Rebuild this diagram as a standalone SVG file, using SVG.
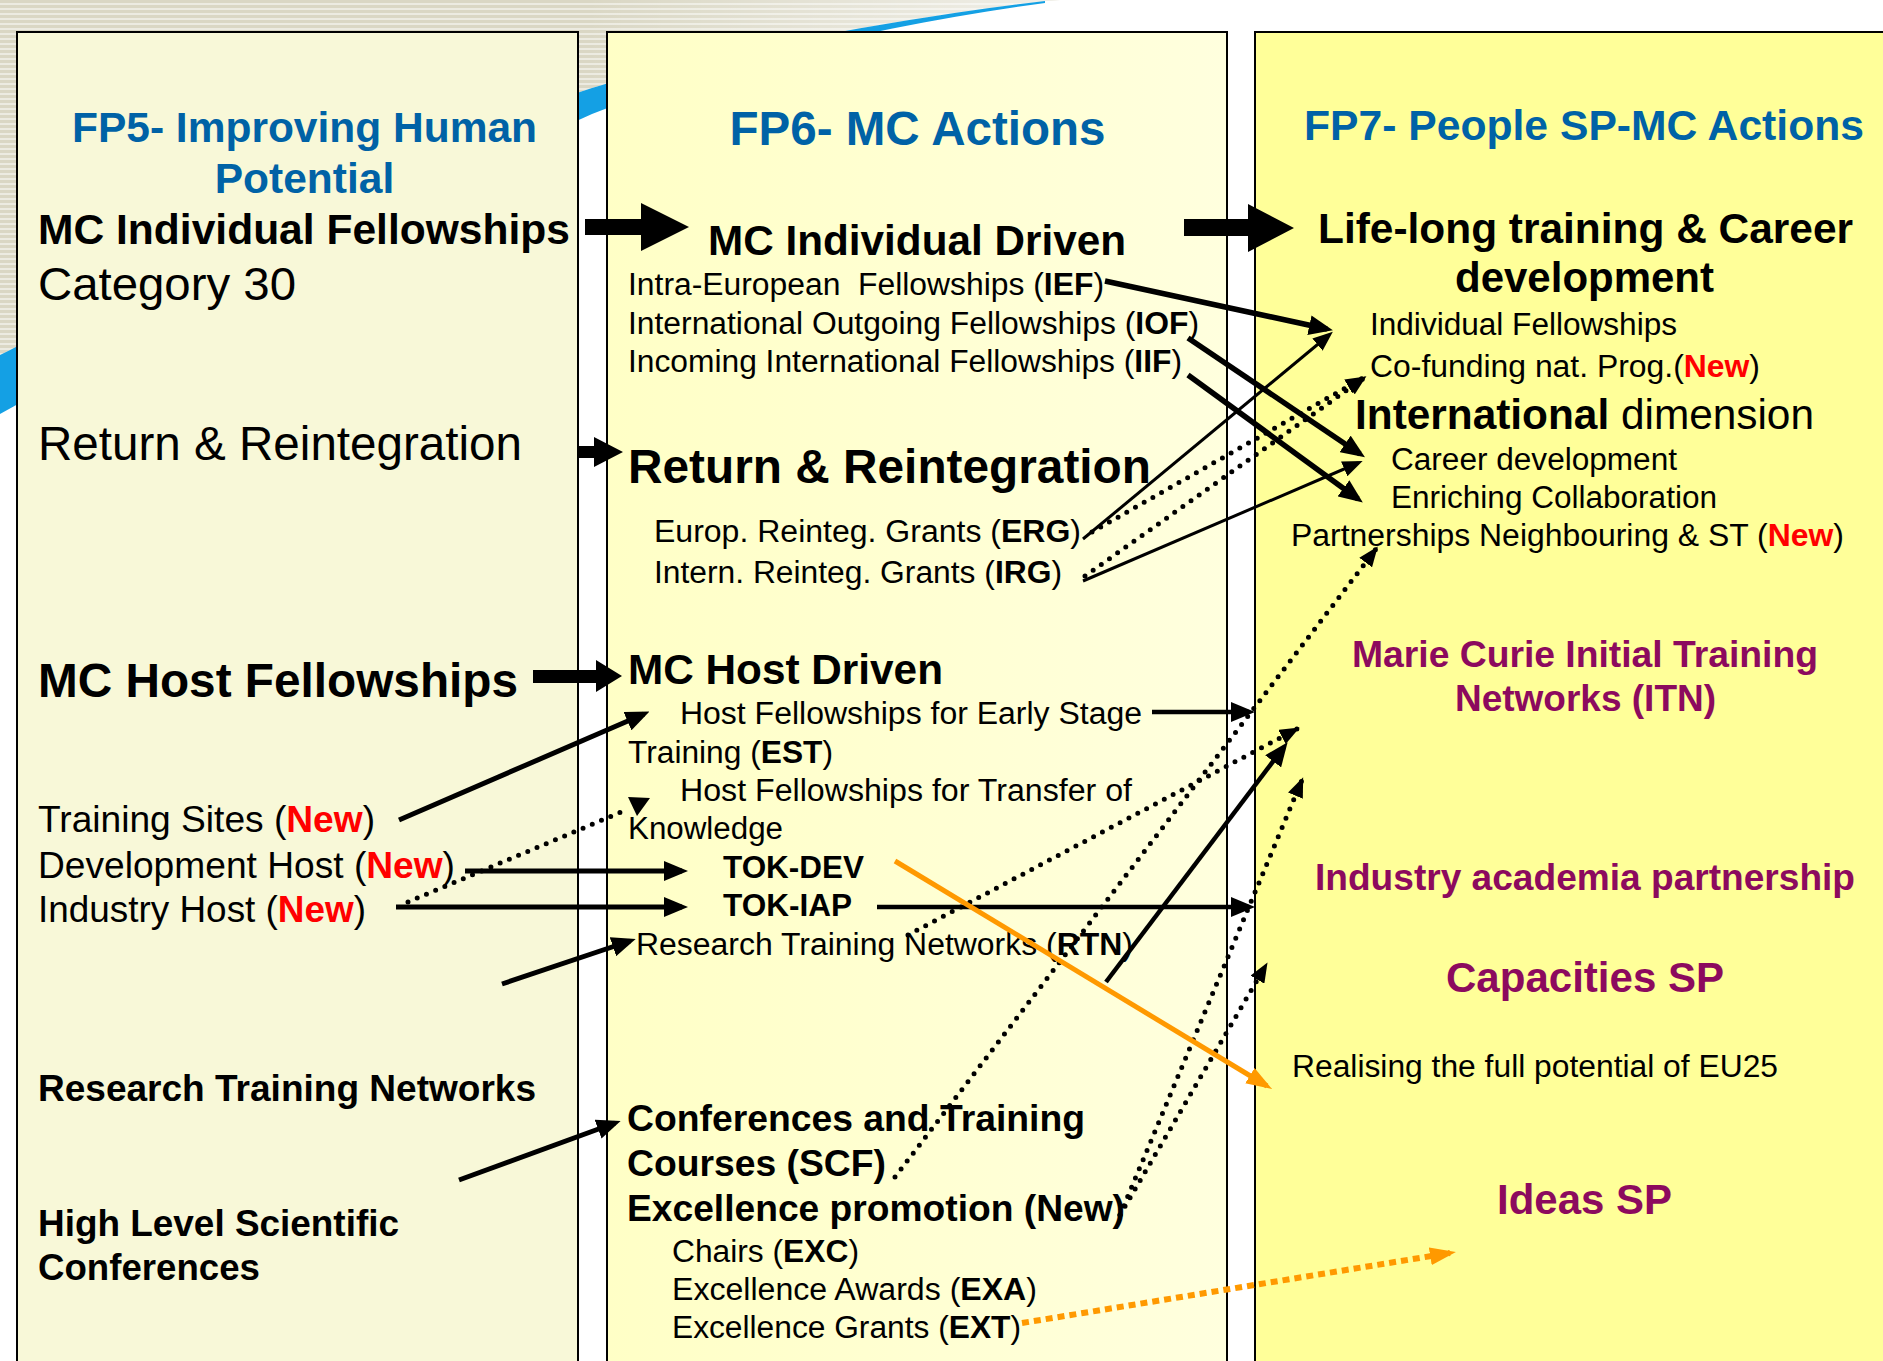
<svg xmlns="http://www.w3.org/2000/svg" width="1883" height="1361" viewBox="0 0 1883 1361">
<defs>
<style>
.t{font-family:"Liberation Sans",Arial,sans-serif;fill:#000}
.b{font-weight:bold}
.blue{fill:#0062A6;font-weight:bold}
.pur{fill:#8C0A5E;font-weight:bold}
.red{fill:#FF0000;font-weight:bold}
.s31{font-size:31px}
.s37{font-size:37px}
.s42{font-size:42.5px}
.s47{font-size:47.5px}
.panel{stroke:#000;stroke-width:2}
.ln{fill:none;stroke:#000;stroke-linecap:butt}
.dot{fill:none;stroke:#000;stroke-width:5;stroke-linecap:round;stroke-dasharray:0 10}
.blk{fill:#000}
</style>
<pattern id="stripes" width="8" height="5" patternUnits="userSpaceOnUse">
<rect width="8" height="5" fill="#DAD7C4"/>
<rect y="3" width="8" height="2" fill="#ECEBE1"/>
</pattern>
<linearGradient id="fade" x1="0" y1="0" x2="1" y2="0">
<stop offset="0.55" stop-color="#fff" stop-opacity="0"/>
<stop offset="1" stop-color="#fff" stop-opacity="0.6"/>
</linearGradient>
<linearGradient id="g2" x1="0" y1="0" x2="1" y2="0">
<stop offset="0" stop-color="#FFFFC6"/>
<stop offset="1" stop-color="#FFFFDE"/>
</linearGradient>
<marker id="ah" viewBox="0 0 24 20" refX="18" refY="10" markerWidth="24" markerHeight="20" markerUnits="userSpaceOnUse" orient="auto">
<path d="M0,0 L24,10 L0,20 z" fill="#000"/>
</marker>
<marker id="ahs" viewBox="0 0 20 16" refX="15" refY="8" markerWidth="20" markerHeight="16" markerUnits="userSpaceOnUse" orient="auto">
<path d="M0,0 L20,8 L0,16 z" fill="#000"/>
</marker>
<marker id="ahd" viewBox="0 0 20 16" refX="17" refY="8" markerWidth="20" markerHeight="16" markerUnits="userSpaceOnUse" orient="auto">
<path d="M0,0 L20,8 L0,16 z" fill="#000"/>
</marker>
<marker id="aho" viewBox="0 0 26 18" refX="20" refY="9" markerWidth="26" markerHeight="18" markerUnits="userSpaceOnUse" orient="auto">
<path d="M0,0 L26,9 L0,18 z" fill="#FF9900"/>
</marker>
</defs>

<g id="background">
<rect width="1883" height="1361" fill="#fff"/>
<path d="M0,0 L1060,0 L1045,1 C900,18 700,55 592,88 C400,150 150,280 0,355 Z" fill="url(#stripes)"/>
<path d="M0,0 L1060,0 L1045,1 C900,18 700,55 592,88 C400,150 150,280 0,355 Z" fill="url(#fade)"/>
<path d="M1045,1 C900,18 700,55 592,88 C400,150 150,280 0,355 L0,414 C150,330 400,200 592,114 C720,62 900,22 1045,3 Z" fill="#14A0E4"/>
</g>

<g id="col-fp5">
<rect class="panel" x="17" y="32" width="561" height="1345" fill="#F8F8D8"/>
<text class="t blue s42" x="304.5" y="142" text-anchor="middle" textLength="465" lengthAdjust="spacingAndGlyphs">FP5- Improving Human</text>
<text class="t blue s42" x="304.5" y="193" text-anchor="middle">Potential</text>
</g>
<g id="col-fp6">
<rect class="panel" x="607" y="32" width="620" height="1345" fill="url(#g2)"/>
<text class="t blue" style="font-size:48px" x="917.5" y="145" text-anchor="middle" textLength="376" lengthAdjust="spacingAndGlyphs">FP6- MC Actions</text>
</g>
<g id="col-fp7">
<rect class="panel" x="1255" y="32" width="660" height="1345" fill="#FFFF99"/>
<text class="t blue s42" x="1304" y="140" textLength="560" lengthAdjust="spacingAndGlyphs">FP7- People SP-MC Actions</text>
</g>

<g id="fp5-mc-individual-fellowships">
<text class="t b s42" x="38" y="244" textLength="532" lengthAdjust="spacingAndGlyphs">MC Individual Fellowships</text>
<text class="t" style="font-size:47px" x="38" y="300" textLength="258" lengthAdjust="spacingAndGlyphs">Category 30</text>
</g>
<g id="fp5-return">
<text class="t s47" x="38" y="460" textLength="484" lengthAdjust="spacingAndGlyphs">Return &amp; Reintegration</text>
</g>
<g id="fp5-mc-host">
<text class="t b s47" x="38" y="697" textLength="480" lengthAdjust="spacingAndGlyphs">MC Host Fellowships</text>
</g>
<g id="fp5-training-sites">
<text class="t s37" x="38" y="832" textLength="337" lengthAdjust="spacingAndGlyphs">Training Sites (<tspan class="red">New</tspan>)</text>
</g>
<g id="fp5-development-host">
<text class="t s37" x="38" y="878" textLength="417" lengthAdjust="spacingAndGlyphs">Development Host (<tspan class="red">New</tspan>)</text>
</g>
<g id="fp5-industry-host">
<text class="t s37" x="38" y="922" textLength="328" lengthAdjust="spacingAndGlyphs">Industry Host (<tspan class="red">New</tspan>)</text>
</g>
<g id="fp5-rtn">
<text class="t b s37" x="38" y="1101" textLength="498" lengthAdjust="spacingAndGlyphs">Research Training Networks</text>
</g>
<g id="fp5-hlsc">
<text class="t b s37" x="38" y="1236" textLength="361" lengthAdjust="spacingAndGlyphs">High Level Scientific</text>
<text class="t b s37" x="38" y="1280" textLength="222" lengthAdjust="spacingAndGlyphs">Conferences</text>
</g>

<g id="fp6-individual-driven">
<text class="t b s42" x="708" y="255" textLength="418" lengthAdjust="spacingAndGlyphs">MC Individual Driven</text>
<text class="t s31" style="white-space:pre" x="628" y="295" textLength="476" lengthAdjust="spacingAndGlyphs">Intra-European  Fellowships (<tspan class="b">IEF</tspan>)</text>
<text class="t s31" x="628" y="334" textLength="571" lengthAdjust="spacingAndGlyphs">International Outgoing Fellowships (<tspan class="b">IOF</tspan>)</text>
<text class="t s31" x="628" y="372" textLength="554" lengthAdjust="spacingAndGlyphs">Incoming International Fellowships (<tspan class="b">IIF</tspan>)</text>
</g>
<g id="fp6-return">
<text class="t b" style="font-size:48px" x="628" y="483" textLength="523" lengthAdjust="spacingAndGlyphs">Return &amp; Reintegration</text>
<text class="t s31" x="654" y="542" textLength="427" lengthAdjust="spacingAndGlyphs">Europ. Reinteg. Grants (<tspan class="b">ERG</tspan>)</text>
<text class="t s31" x="654" y="583" textLength="408" lengthAdjust="spacingAndGlyphs">Intern. Reinteg. Grants (<tspan class="b">IRG</tspan>)</text>
</g>
<g id="fp6-host-driven">
<text class="t b s42" x="628" y="684" textLength="315" lengthAdjust="spacingAndGlyphs">MC Host Driven</text>
<text class="t s31" x="680" y="724" textLength="462" lengthAdjust="spacingAndGlyphs">Host Fellowships for Early Stage</text>
<text class="t s31" x="628" y="763" textLength="205" lengthAdjust="spacingAndGlyphs">Training (<tspan class="b">EST</tspan>)</text>
<text class="t s31" x="680" y="801" textLength="452" lengthAdjust="spacingAndGlyphs">Host Fellowships for Transfer of</text>
<text class="t s31" x="628" y="839" textLength="155" lengthAdjust="spacingAndGlyphs">Knowledge</text>
</g>
<g id="fp6-tok-dev">
<text class="t b s31" x="723" y="878" textLength="141" lengthAdjust="spacingAndGlyphs">TOK-DEV</text>
</g>
<g id="fp6-tok-iap">
<text class="t b s31" x="723" y="916" textLength="129" lengthAdjust="spacingAndGlyphs">TOK-IAP</text>
</g>
<g id="fp6-rtn">
<text class="t s31" x="636" y="955" textLength="497" lengthAdjust="spacingAndGlyphs">Research Training Networks (<tspan class="b">RTN</tspan>)</text>
</g>
<g id="fp6-scf">
<text class="t b s37" x="627" y="1131" textLength="458" lengthAdjust="spacingAndGlyphs">Conferences and Training</text>
<text class="t b s37" x="627" y="1176" textLength="259" lengthAdjust="spacingAndGlyphs">Courses (SCF)</text>
</g>
<g id="fp6-excellence">
<text class="t b s37" x="627" y="1221" textLength="498" lengthAdjust="spacingAndGlyphs">Excellence promotion (New)</text>
<text class="t s31" x="672" y="1262" textLength="187" lengthAdjust="spacingAndGlyphs">Chairs (<tspan class="b">EXC</tspan>)</text>
<text class="t s31" x="672" y="1300" textLength="365" lengthAdjust="spacingAndGlyphs">Excellence Awards (<tspan class="b">EXA</tspan>)</text>
<text class="t s31" x="672" y="1338" textLength="349" lengthAdjust="spacingAndGlyphs">Excellence Grants (<tspan class="b">EXT</tspan>)</text>
</g>

<g id="fp7-lifelong">
<text class="t b s42" x="1318" y="243" textLength="535" lengthAdjust="spacingAndGlyphs">Life-long training &amp; Career</text>
<text class="t b s42" x="1455" y="292" textLength="259" lengthAdjust="spacingAndGlyphs">development</text>
<text class="t s31" x="1370" y="335" textLength="307" lengthAdjust="spacingAndGlyphs">Individual Fellowships</text>
<text class="t s31" x="1370" y="377" textLength="390" lengthAdjust="spacingAndGlyphs">Co-funding nat. Prog.(<tspan class="red">New</tspan>)</text>
</g>
<g id="fp7-international">
<text class="t s42" x="1355" y="429" textLength="459" lengthAdjust="spacingAndGlyphs"><tspan class="b">International</tspan> dimension</text>
<text class="t s31" x="1391" y="470" textLength="286" lengthAdjust="spacingAndGlyphs">Career development</text>
<text class="t s31" x="1391" y="508" textLength="326" lengthAdjust="spacingAndGlyphs">Enriching Collaboration</text>
<text class="t s31" x="1291" y="546" textLength="553" lengthAdjust="spacingAndGlyphs">Partnerships Neighbouring &amp; ST (<tspan class="red">New</tspan>)</text>
</g>
<g id="fp7-itn">
<text class="t pur s37" x="1352" y="667" textLength="466" lengthAdjust="spacingAndGlyphs">Marie Curie Initial Training</text>
<text class="t pur s37" x="1455" y="711" textLength="261" lengthAdjust="spacingAndGlyphs">Networks (ITN)</text>
</g>
<g id="fp7-iap">
<text class="t pur s37" x="1315" y="890" textLength="540" lengthAdjust="spacingAndGlyphs">Industry academia partnership</text>
</g>
<g id="fp7-capacities">
<text class="t pur s42" x="1446" y="992" textLength="278" lengthAdjust="spacingAndGlyphs">Capacities SP</text>
<text class="t s31" x="1292" y="1077" textLength="486" lengthAdjust="spacingAndGlyphs">Realising the full potential of EU25</text>
</g>
<g id="fp7-ideas">
<text class="t pur s42" x="1497" y="1214" textLength="175" lengthAdjust="spacingAndGlyphs">Ideas SP</text>
</g>

<g id="connectors">
<polygon class="blk" points="585,219 641,219 641,203 689,227 641,251 641,235 585,235"/>
<polygon class="blk" points="1184,219 1248,219 1248,204 1294,228 1248,252 1248,236 1184,236"/>
<polygon class="blk" points="577,446 594,446 594,437 623,452 594,467 594,458 577,458"/>
<polygon class="blk" points="533,670 596,670 596,660 622,676 596,692 596,683 533,683"/>

<line class="ln" style="stroke-width:5.5" x1="1105" y1="281" x2="1327" y2="329" marker-end="url(#ah)"/>
<line class="ln" style="stroke-width:5.5" x1="1188" y1="338" x2="1360" y2="454" marker-end="url(#ah)"/>
<line class="ln" style="stroke-width:5.5" x1="1188" y1="375" x2="1358" y2="499" marker-end="url(#ah)"/>
<line class="ln" style="stroke-width:3" x1="1083" y1="539" x2="1329" y2="335" marker-end="url(#ahs)"/>
<line class="ln" style="stroke-width:3" x1="1083" y1="581" x2="1358" y2="463" marker-end="url(#ahs)"/>
<line class="dot" x1="1092" y1="532" x2="1363" y2="378" marker-end="url(#ahd)"/>
<line class="dot" x1="1085" y1="576" x2="1364" y2="378" marker-end="url(#ahd)"/>

<line class="ln" style="stroke-width:5" x1="399" y1="820" x2="644" y2="714" marker-end="url(#ah)"/>
<line class="ln" style="stroke-width:5" x1="465" y1="871" x2="682" y2="871" marker-end="url(#ah)"/>
<line class="ln" style="stroke-width:5" x1="396" y1="907" x2="682" y2="907" marker-end="url(#ah)"/>
<line class="ln" style="stroke-width:5" x1="502" y1="984" x2="630" y2="941" marker-end="url(#ah)"/>
<line class="ln" style="stroke-width:5" x1="459" y1="1180" x2="615" y2="1123" marker-end="url(#ah)"/>
<line class="dot" x1="408" y1="902" x2="626" y2="810"/>
<polygon class="blk" points="628,797 650,798 637,816"/>

<line class="ln" style="stroke-width:4.5" x1="1152" y1="712" x2="1249" y2="712" marker-end="url(#ah)"/>
<line class="ln" style="stroke-width:4.5" x1="877" y1="907" x2="1249" y2="907" marker-end="url(#ah)"/>
<line class="ln" style="stroke-width:4.5" x1="1106" y1="982" x2="1284" y2="747" marker-end="url(#ah)"/>

<line class="dot" x1="895" y1="1177" x2="1376" y2="549" marker-end="url(#ahd)"/>
<line class="dot" x1="908" y1="935" x2="1297" y2="729" marker-end="url(#ahd)"/>
<line class="dot" x1="1120" y1="1215" x2="1302" y2="780" marker-end="url(#ahd)"/>
<line class="dot" x1="1120" y1="1215" x2="1266" y2="965" marker-end="url(#ahd)"/>

<line style="fill:none;stroke:#FF9900;stroke-width:5" x1="895" y1="861" x2="1267" y2="1086" marker-end="url(#aho)"/>
<line style="fill:none;stroke:#FF9900;stroke-width:6;stroke-dasharray:7 5" x1="1022" y1="1323" x2="1450" y2="1253" marker-end="url(#aho)"/>
</g>
</svg>
